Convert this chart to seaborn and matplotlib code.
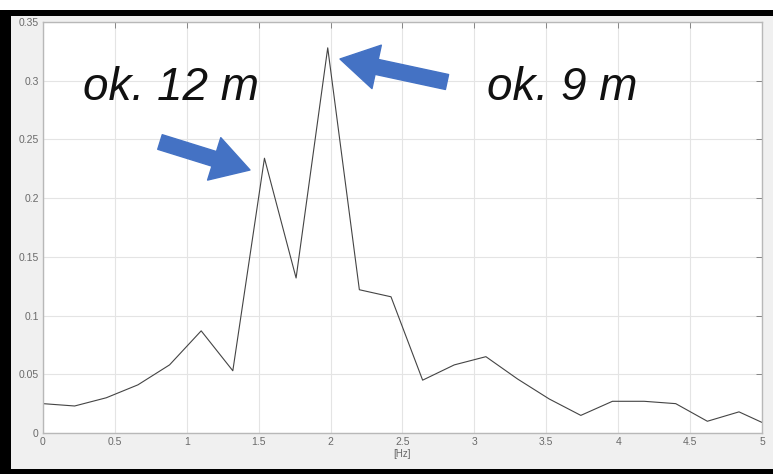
import matplotlib
matplotlib.use("Agg")
import matplotlib.pyplot as plt
import seaborn as sns
import pandas as pd
from matplotlib.patches import Rectangle

freq_hz = [0.0, 0.22, 0.44, 0.66, 0.88, 1.10, 1.32, 1.54, 1.76, 1.98, 2.20, 2.42,
           2.64, 2.86, 3.08, 3.30, 3.52, 3.74, 3.96, 4.18, 4.40, 4.62, 4.84, 5.0]
amplitude = [0.025, 0.023, 0.030, 0.041, 0.058, 0.087, 0.053, 0.234, 0.132, 0.328,
             0.122, 0.116, 0.045, 0.058, 0.065, 0.046, 0.029, 0.015, 0.027, 0.027,
             0.025, 0.010, 0.018, 0.009]
x_ticks = [0, 0.5, 1, 1.5, 2, 2.5, 3, 3.5, 4, 4.5, 5]
x_tick_labels = ["0", "0.5", "1", "1.5", "2", "2.5", "3", "3.5", "4", "4.5", "5"]
y_ticks = [0, 0.05, 0.1, 0.15, 0.2, 0.25, 0.3, 0.35]
y_tick_labels = ["0", "0.05", "0.1", "0.15", "0.2", "0.25", "0.3", "0.35"]
x_label = "[Hz]"
label_12m = "ok. 12 m"
label_9m = "ok. 9 m"

df = pd.DataFrame({"f": freq_hz, "a": amplitude})

sns.set_theme(style="whitegrid")
plt.rcParams['font.family'] = ['Liberation Sans', 'DejaVu Sans']

W, H = 773, 474
fig = plt.figure(figsize=(W / 100, H / 100), dpi=100)
fig.patch.set_facecolor("#f0f0f0")

# white strip at top and black frame
fig.patches.append(Rectangle((0, (H - 10) / H), 1, 10 / H, transform=fig.transFigure,
                             facecolor="white", edgecolor="none", zorder=0))
fig.patches.append(Rectangle((0, (H - 16) / H), 1, 6 / H, transform=fig.transFigure,
                             facecolor="black", edgecolor="none", zorder=5))
fig.patches.append(Rectangle((0, 0), 11 / W, (H - 10) / H, transform=fig.transFigure,
                             facecolor="black", edgecolor="none", zorder=5))
fig.patches.append(Rectangle((0, 0), 1, 5 / H, transform=fig.transFigure,
                             facecolor="black", edgecolor="none", zorder=5))

ax = fig.add_axes([43 / W, (H - 433) / H, (762 - 43) / W, (433 - 22) / H])
ax.set_facecolor("white")
sns.lineplot(data=df, x="f", y="a", ax=ax, color="#444444", linewidth=0.8)

ax.set_xlim(0, 5)
ax.set_ylim(0, 0.35)
ax.set_xticks(x_ticks)
ax.set_xticklabels(x_tick_labels)
ax.set_yticks(y_ticks)
ax.set_yticklabels(y_tick_labels)
ax.set_xlabel(x_label, fontsize=7, color="#666666", labelpad=1)
ax.set_ylabel("")
ax.grid(True, color="#e4e4e4", linewidth=0.8)
ax.tick_params(axis="both", direction="in", length=4, width=0.6, color="#777777",
               labelsize=7.5, labelcolor="#6a6a6a", top=True, right=True, pad=3)
for s in ax.spines.values():
    s.set_color("#b8b8b8")
    s.set_linewidth(1.0)
    s.set_visible(True)

# annotations
fig.text(83 / W, (H - 100) / H, label_12m, fontsize=33, fontstyle="italic",
         color="#111111", ha="left", va="baseline")
fig.text(487 / W, (H - 100) / H, label_9m, fontsize=33, fontstyle="italic",
         color="#111111", ha="left", va="baseline")

arrow_style = "simple,head_length=27,head_width=32,tail_width=11"
ax.annotate("", xy=(250, H - 170), xytext=(160, H - 142), xycoords="figure pixels",
            textcoords="figure pixels",
            arrowprops=dict(arrowstyle=arrow_style, mutation_scale=1, color="#4472C4",
                            shrinkA=0, shrinkB=0))
ax.annotate("", xy=(340, H - 59), xytext=(447, H - 82), xycoords="figure pixels",
            textcoords="figure pixels",
            arrowprops=dict(arrowstyle=arrow_style, mutation_scale=1, color="#4472C4",
                            shrinkA=0, shrinkB=0))

fig.savefig("out.png", dpi=100, facecolor=fig.get_facecolor())
